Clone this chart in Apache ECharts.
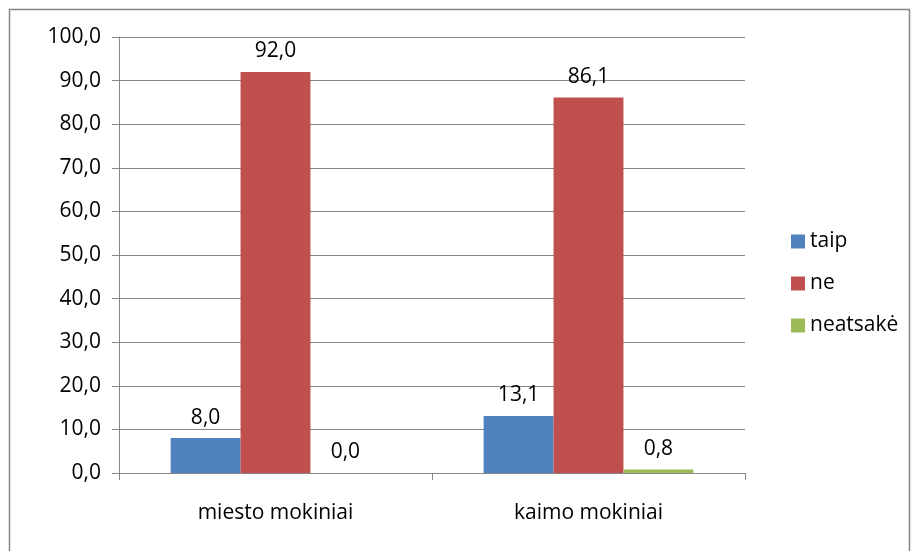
<!DOCTYPE html>
<html><head><meta charset="utf-8">
<script src="https://cdn.jsdelivr.net/npm/echarts@6/dist/echarts.min.js"></script>
<style>html,body{margin:0;padding:0;background:#fff}#c{width:918px;height:551px}</style>
</head><body><div id="c"></div>
<script>
const categories = ['miesto mokiniai', 'kaimo mokiniai'];
const seriesNames = ['taip', 'ne', 'neatsakė'];
const taip = [8.0, 13.1];
const ne = [92.0, 86.1];
const neatsake = [0.0, 0.8];
const colors = ['#4F81BD', '#C0504D', '#9BBB59'];
const font = '"Open Sans", Lato, sans-serif';
const fs = 21;
const fmt = v => v.toFixed(1).replace('.', ',');
const chart = echarts.init(document.getElementById('c'), null, {renderer: 'canvas'});
const mk = (name, data, i) => ({
  name, type: 'bar', data, barGap: '0%', barCategoryGap: '33%',
  itemStyle: {color: colors[i]},
  label: {show: true, position: 'top', distance: 10, color: '#000', fontSize: fs, fontFamily: font,
    formatter: p => fmt(p.value)}
});
chart.setOption({
  animation: false,
  graphic: [{type: 'rect', shape: {x: 9.5, y: 9.5, width: 900, height: 560}, style: {fill: 'none', stroke: '#868686', lineWidth: 1.5}, z: -1}],
  color: colors,
  grid: {left: 119, right: 173, top: 37, bottom: 78, containLabel: false},
  legend: {orient: 'vertical', left: 786, top: 226, itemWidth: 14, itemHeight: 14, itemGap: 21,
    icon: 'rect', textStyle: {fontSize: fs, fontFamily: font, color: '#000'}, data: seriesNames},
  xAxis: {type: 'category', data: categories,
    axisLine: {lineStyle: {color: '#868686'}},
    axisTick: {show: true, length: 7, lineStyle: {color: '#868686'}},
    axisLabel: {fontSize: fs, fontFamily: font, color: '#000', margin: 30}},
  yAxis: {type: 'value', min: 0, max: 100, interval: 10,
    axisLine: {show: true, lineStyle: {color: '#868686'}},
    axisTick: {show: true, length: 7, lineStyle: {color: '#868686'}},
    splitLine: {lineStyle: {color: '#868686'}},
    axisLabel: {fontSize: fs, fontFamily: font, color: '#000', margin: 18, formatter: v => fmt(v)}},
  series: [mk(seriesNames[0], taip, 0), mk(seriesNames[1], ne, 1), mk(seriesNames[2], neatsake, 2)]
});
</script></body></html>
